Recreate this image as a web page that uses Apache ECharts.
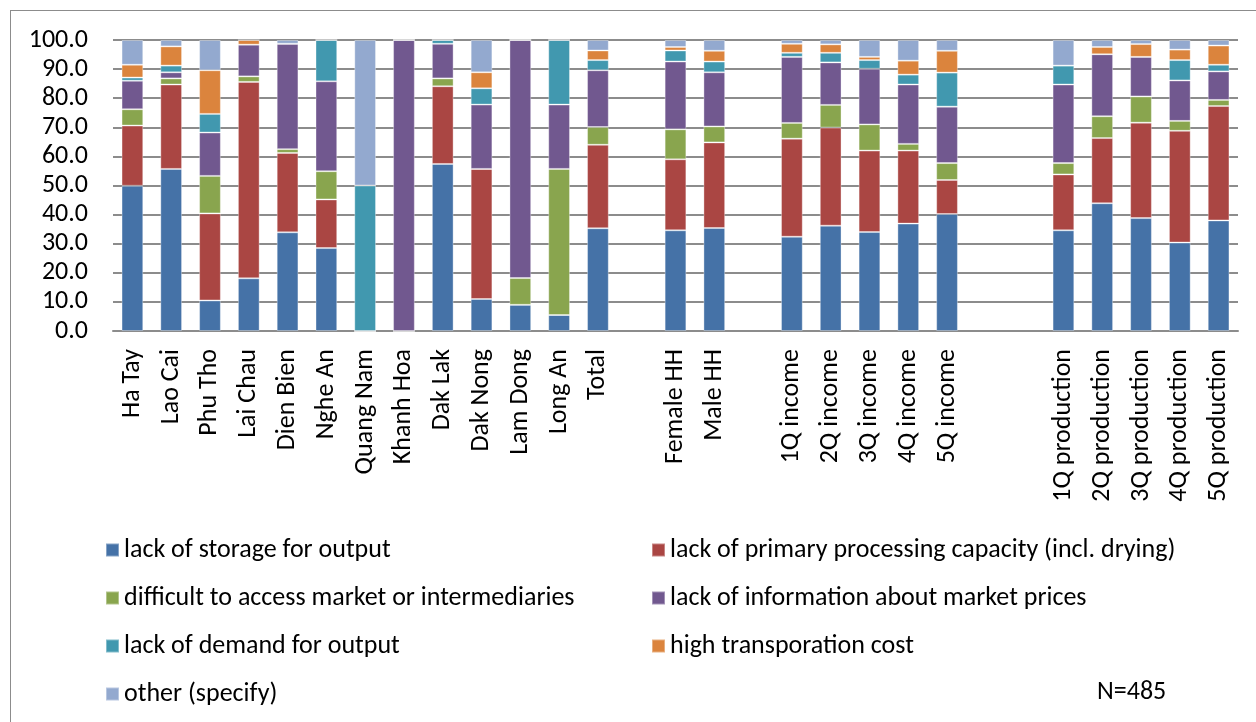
<!DOCTYPE html>
<html>
<head>
<meta charset="utf-8">
<script src="https://cdn.jsdelivr.net/npm/echarts@6/dist/echarts.min.js"></script>
<style>
  html, body { margin: 0; padding: 0; background: #fff; }
  #frame { position: absolute; left: 10px; top: 10px; width: 1260px; height: 730px; border: 1.5px solid #8c8c8c; box-sizing: border-box; }
  #chart { position: absolute; left: 0; top: 0; width: 1256px; height: 722px; }
</style>
</head>
<body>
<div id="frame"></div>
<div id="chart"></div>
<script>
// Categories; blank slots separate the groups of bars
const categories = [
  'Ha Tay', 'Lao Cai', 'Phu Tho', 'Lai Chau', 'Dien Bien', 'Nghe An', 'Quang Nam',
  'Khanh Hoa', 'Dak Lak', 'Dak Nong', 'Lam Dong', 'Long An', 'Total',
  ' ',
  'Female HH', 'Male HH',
  '  ',
  '1Q income', '2Q income', '3Q income', '4Q income', '5Q income',
  '   ', '    ',
  '1Q production', '2Q production', '3Q production', '4Q production', '5Q production'
];

const seriesNames = [
  'lack of storage for output',
  'lack of primary processing capacity (incl. drying)',
  'difficult to access market or intermediaries',
  'lack of information about market prices',
  'lack of demand for output',
  'high transporation cost',
  'other (specify)'
];

const storage = [49.9, 55.7, 10.5, 18.1, 33.9, 28.5, 0, 0, 57.4, 11.0, 9.0, 5.5, 35.3,
  null, 34.6, 35.4, null, 32.4, 36.2, 34.0, 36.9, 40.2, null, null, 34.6, 43.9, 38.8, 30.4, 38.0];
const processing = [20.7, 29.0, 29.9, 67.5, 27.3, 16.7, 0, 0, 26.7, 44.7, 0, 0, 28.7,
  null, 24.4, 29.4, null, 33.7, 33.7, 28.0, 25.1, 11.7, null, null, 19.2, 22.4, 32.8, 38.4, 39.3];
const access = [5.6, 2.1, 12.9, 1.9, 1.3, 9.7, 0, 0, 2.7, 0, 9.2, 50.2, 6.1,
  null, 10.3, 5.5, null, 5.4, 7.8, 9.0, 2.3, 5.8, null, null, 3.9, 7.5, 9.0, 3.4, 2.1];
const information = [9.8, 2.1, 14.9, 10.9, 36.2, 30.9, 0, 100.0, 11.9, 22.1, 81.8, 22.1, 19.5,
  null, 23.3, 18.6, null, 22.7, 14.6, 19.1, 20.4, 19.4, null, null, 27.0, 21.3, 13.6, 13.9, 9.8];
const demand = [1.1, 2.3, 6.4, 0, 0, 14.2, 50.0, 0, 1.3, 5.6, 0, 22.2, 3.5,
  null, 3.8, 3.7, null, 1.4, 3.3, 3.0, 3.4, 11.7, null, null, 6.5, 0, 0, 7.0, 2.3];
const transport = [4.4, 6.6, 15.0, 1.6, 0, 0, 0, 0, 0, 5.5, 0, 0, 3.3,
  null, 1.2, 3.7, null, 3.1, 2.9, 1.1, 4.8, 7.5, null, null, 0, 2.5, 4.4, 3.6, 6.6];
const other = [8.5, 2.2, 10.4, 0, 1.3, 0, 50.0, 0, 0, 11.1, 0, 0, 3.6,
  null, 2.4, 3.7, null, 1.3, 1.5, 5.8, 7.1, 3.7, null, null, 8.8, 2.4, 1.4, 3.3, 1.9];

const yTicks = [0, 10, 20, 30, 40, 50, 60, 70, 80, 90, 100];

const seriesValues = [storage, processing, access, information, demand, transport, other];
const colors = ['#4572A7', '#AA4643', '#89A54E', '#71588F', '#4198AF', '#DB843D', '#93A9CF'];

const font = 'Carlito, Calibri, "Open Sans", "Liberation Sans", sans-serif';

const series = seriesNames.map((name, i) => ({
  name: name,
  type: 'bar',
  stack: 'total',
  barWidth: '56%',
  data: seriesValues[i],
  itemStyle: { color: colors[i], borderColor: 'rgba(255,255,255,0.35)', borderWidth: 1 },
  emphasis: { disabled: true }
}));

const chart = echarts.init(document.getElementById('chart'), null, { renderer: 'canvas' });

const legendText = { fontSize: 26, lineHeight: 26, color: '#000', fontFamily: font };

chart.setOption({
  animation: false,
  backgroundColor: 'transparent',
  textStyle: { fontFamily: font },
  grid: { left: 113, right: 18, top: 40, bottom: 391, containLabel: false },
  xAxis: {
    type: 'category',
    data: categories,
    axisTick: { show: false },
    axisLine: { lineStyle: { color: '#8c8c8c', width: 2 } },
    axisLabel: {
      interval: 0, rotate: 90, margin: 18,
      fontSize: 26, color: '#000', fontFamily: font
    }
  },
  yAxis: {
    type: 'value',
    min: yTicks[0], max: yTicks[yTicks.length - 1], interval: 10,
    axisLine: { show: false },
    axisTick: { show: false },
    splitLine: { lineStyle: { color: '#8c8c8c', width: 2 } },
    axisLabel: {
      margin: 25, fontSize: 26, color: '#000', fontFamily: font,
      formatter: v => v.toFixed(1)
    }
  },
  legend: [
    {
      data: [seriesNames[0], seriesNames[2], seriesNames[4], seriesNames[6]],
      orient: 'vertical', left: 100, top: 532, itemGap: 22,
      itemWidth: 13, itemHeight: 13, icon: 'rect',
      textStyle: legendText
    },
    {
      data: [seriesNames[1], seriesNames[3], seriesNames[5]],
      orient: 'vertical', left: 646, top: 532, itemGap: 22,
      itemWidth: 13, itemHeight: 13, icon: 'rect',
      textStyle: legendText
    }
  ],
  graphic: [{
    type: 'text', left: 1097, top: 679,
    style: { text: 'N=485', fontSize: 26, fill: '#000', fontFamily: font }
  }],
  series: series
});
</script>
</body>
</html>
